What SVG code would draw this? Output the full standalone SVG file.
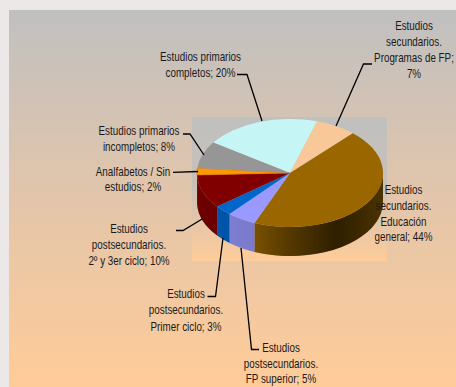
<svg xmlns="http://www.w3.org/2000/svg" width="456" height="387" viewBox="0 0 456 387">
<defs>
<linearGradient id="bgGrad" gradientUnits="userSpaceOnUse" x1="0" y1="10" x2="0" y2="387">
<stop offset="0" stop-color="#c0c0c0"/>
<stop offset="0.55" stop-color="#e6c6a8"/>
<stop offset="1" stop-color="#ffcc99"/>
</linearGradient>
<linearGradient id="plotGrad" gradientUnits="userSpaceOnUse" x1="0" y1="117" x2="0" y2="261">
<stop offset="0" stop-color="#c0c0c0"/>
<stop offset="0.45" stop-color="#c8c0b8"/>
<stop offset="1" stop-color="#ffcc99"/>
</linearGradient>
<linearGradient id="shade" gradientUnits="userSpaceOnUse" x1="197" y1="0" x2="383" y2="0">
<stop offset="0" stop-color="#000" stop-opacity="0.15"/>
<stop offset="0.3" stop-color="#000" stop-opacity="0.2"/>
<stop offset="0.5" stop-color="#000" stop-opacity="0.45"/>
<stop offset="0.75" stop-color="#000" stop-opacity="0.7"/>
<stop offset="0.95" stop-color="#000" stop-opacity="0.55"/>
<stop offset="1" stop-color="#000" stop-opacity="0.5"/>
</linearGradient>
</defs>
<style>
text{font-family:"Liberation Sans",Arial,sans-serif;font-size:12px;fill:#1a1a1a;text-anchor:middle}
.lead{fill:none;stroke:#000;stroke-width:1.3}
</style>
<rect x="0" y="0" width="456" height="387" fill="#ece8e7"/>
<rect x="9" y="10" width="447" height="377" fill="url(#bgGrad)"/>
<rect x="192" y="117" width="195" height="144" fill="url(#plotGrad)"/>

<g id="slice-sec-general">
<path d="M383,173 A93,54 0 0 1 254.49,222.91 L254.49,251.91 A93,54 0 0 0 383,202 Z" fill="#996600"/>
</g>
<g id="slice-fp-superior">
<path d="M254.49,222.91 A93,54 0 0 1 229.47,214 L229.47,243 A93,54 0 0 0 254.49,251.91 Z" fill="#9999ff"/>
</g>
<g id="slice-primer-ciclo">
<path d="M229.47,214 A93,54 0 0 1 217.22,206.62 L217.22,235.62 A93,54 0 0 0 229.47,243 Z" fill="#0066cc"/>
</g>
<g id="slice-2-3-ciclo">
<path d="M217.22,206.62 A93,54 0 0 1 197.06,174.98 L197.06,203.98 A93,54 0 0 0 217.22,235.62 Z" fill="#800000"/>
</g>
<g id="slice-analfabetos-side">
<path d="M197.06,174.98 A93,54 0 0 1 197,173 L197,202 A93,54 0 0 0 197.06,203.98 Z" fill="#ff9900"/>
</g>
<path d="M197,173 A93,54 0 0 0 383,173 L383,202 A93,54 0 0 1 197,202 Z" fill="url(#shade)"/>

<g id="node-primarios-completos">
<path d="M290,173 L213.17,142.57 A93,54 0 0 1 317.19,121.36 Z" fill="#c6f5f5"/>
<text transform="translate(200.5,60.5) scale(0.82,1)">Estudios primarios</text>
<text transform="translate(200.5,77) scale(0.82,1)">completos; 20%</text>
</g>
<g id="node-sec-fp">
<path d="M290,173 L317.19,121.36 A93,54 0 0 1 352.77,133.15 Z" fill="#f8c898"/>
<text transform="translate(414,29.5) scale(0.82,1)">Estudios</text>
<text transform="translate(414,45.5) scale(0.82,1)">secundarios.</text>
<text transform="translate(414,61.5) scale(0.82,1)">Programas de FP;</text>
<text transform="translate(414,77.5) scale(0.82,1)">7%</text>
</g>
<g id="node-sec-general">
<path d="M290,173 L352.77,133.15 A93,54 0 0 1 254.49,222.91 Z" fill="#996600"/>
<text transform="translate(403.5,193.5) scale(0.82,1)">Estudios</text>
<text transform="translate(403.5,209.5) scale(0.82,1)">secundarios.</text>
<text transform="translate(403.5,225.5) scale(0.82,1)">Educación</text>
<text transform="translate(403.5,241) scale(0.82,1)">general; 44%</text>
</g>
<g id="node-fp-superior">
<path d="M290,173 L254.49,222.91 A93,54 0 0 1 229.47,214 Z" fill="#9999ff"/>
<text transform="translate(281,351.5) scale(0.82,1)">Estudios</text>
<text transform="translate(281,368) scale(0.82,1)">postsecundarios.</text>
<text transform="translate(281,383) scale(0.82,1)">FP superior; 5%</text>
</g>
<g id="node-primer-ciclo">
<path d="M290,173 L229.47,214 A93,54 0 0 1 217.22,206.62 Z" fill="#0066cc"/>
<text transform="translate(186,297.5) scale(0.82,1)">Estudios</text>
<text transform="translate(186,314) scale(0.82,1)">postsecundarios.</text>
<text transform="translate(186,330.5) scale(0.82,1)">Primer ciclo; 3%</text>
</g>
<g id="node-2-3-ciclo">
<path d="M290,173 L217.22,206.62 A93,54 0 0 1 197.06,174.98 Z" fill="#800000"/>
<text transform="translate(129,232.5) scale(0.82,1)">Estudios</text>
<text transform="translate(129,249) scale(0.82,1)">postsecundarios.</text>
<text transform="translate(129,265) scale(0.82,1)">2º y 3er ciclo; 10%</text>
</g>
<g id="node-analfabetos">
<path d="M290,173 L197.06,174.98 A93,54 0 0 1 197.38,168.11 Z" fill="#ff9900" stroke="#e07000" stroke-width="0.6"/>
<text transform="translate(133,175.5) scale(0.82,1)">Analfabetos / Sin</text>
<text transform="translate(133,191) scale(0.82,1)">estudios; 2%</text>
</g>
<g id="node-primarios-incompletos">
<path d="M290,173 L197.38,168.11 A93,54 0 0 1 213.17,142.57 Z" fill="#969696"/>
<text transform="translate(139,135) scale(0.82,1)">Estudios primarios</text>
<text transform="translate(139,150.5) scale(0.82,1)">incompletos; 8%</text>
</g>

<g id="connectors">
<path class="lead" d="M237,74.5 H247 L262,121"/>
<path class="lead" d="M372,64 H363.5 L336,126"/>
<path class="lead" d="M183,134 H190 L204,155"/>
<path class="lead" d="M173,172.3 L198,171.5"/>
<path class="lead" d="M176,230.5 H183 L203,218.5"/>
<path class="lead" d="M207.5,296.5 H215.5 L223,238"/>
<path class="lead" d="M241,248 L251.5,349.5 H259"/>
</g>
</svg>
